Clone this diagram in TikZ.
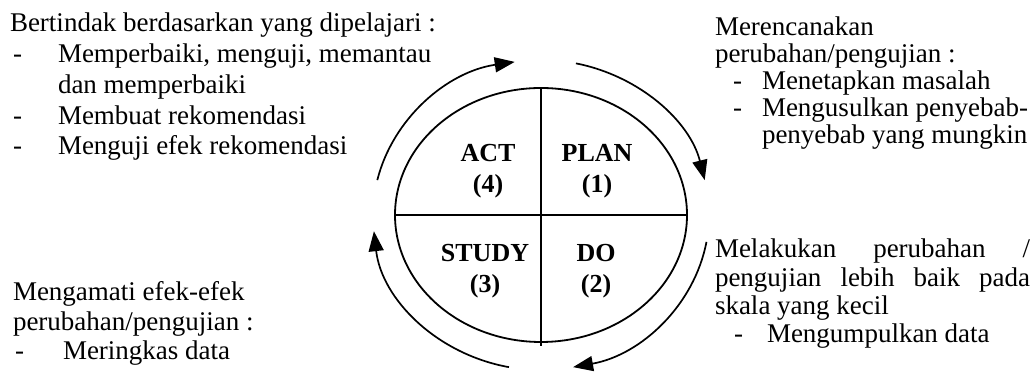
\documentclass[tikz,border=0pt]{standalone}
\usepackage{fontspec}
\setmainfont{Liberation Serif}
\usetikzlibrary{arrows.meta,calc,shapes.geometric}

\begin{document}
\begin{tikzpicture}[x=1pt,y=1pt,
  txt/.style={anchor=base west, inner sep=0pt, outer sep=0pt, font=\fontsize{27}{30}\selectfont},
  lbl/.style={anchor=base, inner sep=0pt, outer sep=0pt, font=\fontsize{26}{29}\selectfont\bfseries},
  ring/.style={draw, ellipse, line width=1.8pt, inner sep=0pt, outer sep=0pt},
  divider/.style={line width=1.4pt},
  cyc/.style={line width=1.7pt, -{Triangle[length=20pt,width=15pt]}}]
\useasboundingbox (0,0) rectangle (1031,387);

% central PDSA ellipse with its four quadrants
\coordinate (c) at (541,172);
\node[ring, minimum width=292pt, minimum height=254pt] (e) at (c) {};
\coordinate (eb) at ($(e.south)+(0,-4)$);
\draw[divider] (e.north) -- (eb);
\draw[divider] (e.west) -- (e.east);

\node[lbl] (act)   at (488,225) {ACT};
\node[lbl] (actn)  at (488,194) {(4)};
\node[lbl] (plan)  at (597,225) {PLAN};
\node[lbl] (plann) at (597,194) {(1)};
\node[lbl] (study) at (485,125) {STUDY};
\node[lbl] (studyn) at (485,94) {(3)};
\node[lbl] (do)    at (596,125) {DO};
\node[lbl] (don)   at (596,94) {(2)};

% clockwise cycle arrows around the ellipse
\draw[cyc] ($(c)+(167:168 and 155)$) arc[start angle=167, end angle=99, x radius=168, y radius=155];
\draw[cyc] ($(c)+(78:168 and 155)$) arc[start angle=78, end angle=13, x radius=168, y radius=155];
\draw[cyc] ($(c)+(-10:168 and 155)$) arc[start angle=-10, end angle=-79, x radius=168, y radius=155];
\draw[cyc] ($(c)+(-101:168 and 155)$) arc[start angle=-101, end angle=-174, x radius=168, y radius=155];

% ACT: top left
\node[txt] (a0) at (10,355) {Bertindak berdasarkan yang dipelajari :};
\node[txt] (a1d) at (13,324.25) {-};
\node[txt] (a1) at (58,324.25) {Memperbaiki, menguji, memantau};
\node[txt] (a1b) at (58,293.5) {dan memperbaiki};
\node[txt] (a2d) at (13,262.75) {-};
\node[txt] (a2) at (58,262.75) {Membuat rekomendasi};
\node[txt] (a3d) at (13,232) {-};
\node[txt] (a3) at (58,232) {Menguji efek rekomendasi};

% STUDY: bottom left
\node[txt] (s0) at (13,86) {Mengamati efek-efek};
\node[txt] (s1) at (13,56) {perubahan/pengujian :};
\node[txt] (s2d) at (15,27) {-};
\node[txt] (s2) at (63,27) {Meringkas data};

% PLAN: top right
\node[txt] (p0) at (715,351) {Merencanakan};
\node[txt] (p1) at (715,324) {perubahan/pengujian :};
\node[txt] (p2d) at (733,297) {-};
\node[txt] (p2) at (762,297) {Menetapkan masalah};
\node[txt] (p3d) at (733,270) {-};
\node[txt] (p3) at (762,270) {Mengusulkan penyebab-};
\node[txt] (p3b) at (762,243) {penyebab yang mungkin};

% DO: bottom right
\node[txt] (d0) at (715,129) {\makebox[315pt][s]{Melakukan\hfill perubahan\hfill /}};
\node[txt] (d1) at (715,100) {\makebox[315pt][s]{pengujian\hfill lebih\hfill baik\hfill pada}};
\node[txt] (d2) at (715,72) {skala yang kecil};
\node[txt] (d3d) at (734,44) {-};
\node[txt] (d3) at (767,44) {Mengumpulkan data};
\end{tikzpicture}
\end{document}
